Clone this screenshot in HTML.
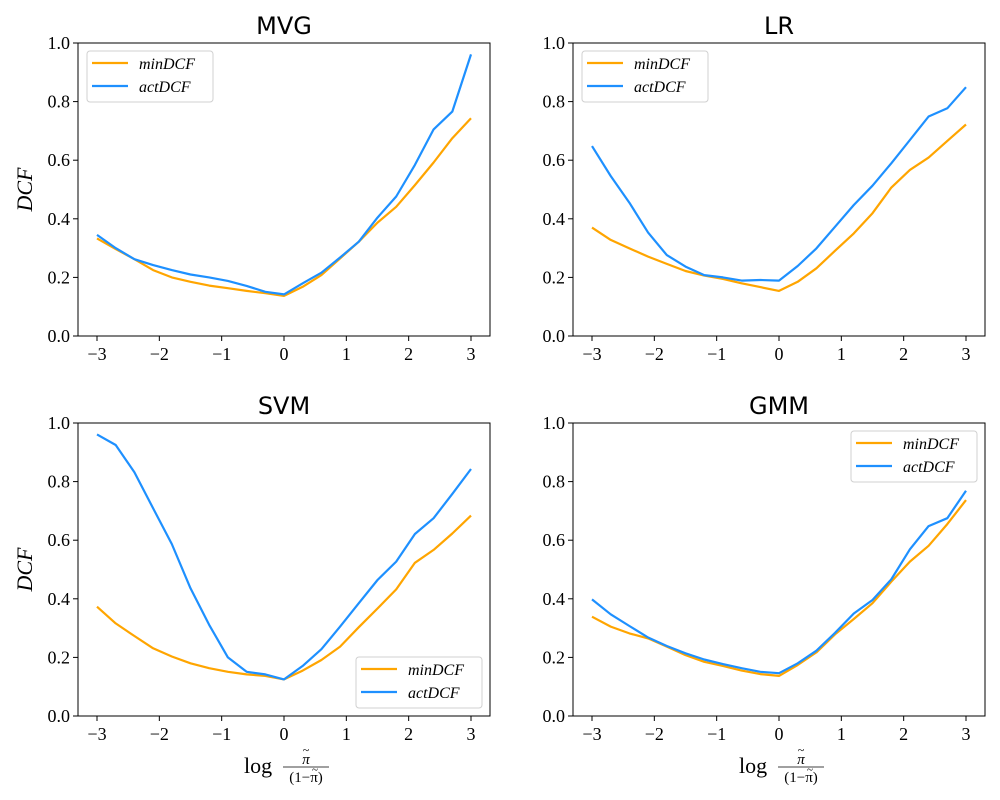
<!DOCTYPE html>
<html><head><meta charset="utf-8">
<style>
html,body{margin:0;padding:0;background:#fff;}
svg{display:block;}
.tick{font-family:"Liberation Serif","DejaVu Serif",serif;font-size:18px;fill:#000;}
.title{font-family:"DejaVu Sans","Liberation Sans",sans-serif;font-size:24px;fill:#000;}
.leg{font-family:"Liberation Serif","DejaVu Serif",serif;font-style:italic;font-size:16px;fill:#000;}
</style></head>
<body>
<svg id="fig" width="1000" height="800" viewBox="0 0 1000 800" xmlns="http://www.w3.org/2000/svg"></svg>
<script>
const xValues = [-3,-2.7,-2.4,-2.1,-1.8,-1.5,-1.2,-0.9,-0.6,-0.3,0,0.3,0.6,0.9,1.2,1.5,1.8,2.1,2.4,2.7,3];
const xTicks = [-3,-2,-1,0,1,2,3];
const xTickLabels = ["\u22123","\u22122","\u22121","0","1","2","3"];
const yTicks = [0,0.2,0.4,0.6,0.8,1.0];
const yTickLabels = ["0.0","0.2","0.4","0.6","0.8","1.0"];
const mvgMin = [.333,.297,.262,.225,.200,.185,.172,.163,.154,.146,.137,.168,.208,.265,.322,.387,.441,.515,.592,.675,.743];
const mvgAct = [.345,.300,.262,.242,.225,.210,.200,.188,.171,.151,.142,.180,.216,.268,.322,.404,.476,.584,.705,.766,.961];
const lrMin = [.370,.328,.299,.271,.246,.222,.206,.195,.180,.167,.154,.185,.231,.291,.350,.419,.506,.567,.609,.666,.722];
const lrAct = [.648,.546,.455,.353,.276,.237,.208,.200,.189,.191,.189,.239,.299,.373,.447,.513,.589,.669,.749,.777,.849];
const svmMin = [.373,.316,.273,.231,.203,.180,.163,.151,.142,.137,.125,.155,.191,.237,.303,.367,.432,.523,.567,.623,.684];
const svmAct = [.961,.925,.832,.709,.587,.436,.311,.200,.151,.142,.125,.171,.228,.305,.385,.464,.527,.621,.675,.758,.843];
const gmmMin = [.339,.305,.282,.265,.237,.208,.185,.171,.155,.143,.137,.174,.217,.279,.331,.385,.458,.527,.581,.655,.737];
const gmmAct = [.398,.347,.307,.268,.239,.214,.193,.177,.163,.151,.146,.180,.223,.284,.350,.396,.466,.569,.648,.675,.769];
const panelTitles = ["MVG","LR","SVM","GMM"];

const NS = "http://www.w3.org/2000/svg";
const svg = document.getElementById("fig");
function mk(tag, attrs, parent){
  const e = document.createElementNS(NS, tag);
  for (const k in attrs) e.setAttribute(k, attrs[k]);
  (parent||svg).appendChild(e);
  return e;
}
const ORANGE = "#ffa500", BLUE = "#1e90ff";

function panel(idx, left, top, minData, actData, legPos, showYLabel, showXLabel){
  const W = 412, H = 293;
  const g = mk("g", {});
  
  
  const xs = v => left + 19 + (v + 3) * (374 / 6);
  const ys = v => top + H - v * H;
  const t = mk("text", {x: left + W/2, y: top - 9, "text-anchor": "middle", class: "title"}, g);
  t.textContent = panelTitles[idx];
  
  
  xTicks.forEach((v, i) => {
    mk("line", {x1: xs(v), x2: xs(v), y1: top + H, y2: top + H + 5, stroke: "#000", "stroke-width": 1}, g);
    const l = mk("text", {x: xs(v), y: top + H + 24, "text-anchor": "middle", class: "tick"}, g);
    l.textContent = xTickLabels[i];
    
    
  });
  yTicks.forEach((v, i) => {
    mk("line", {x1: left - 5, x2: left, y1: ys(v), y2: ys(v), stroke: "#000", "stroke-width": 1}, g);
    const l = mk("text", {x: left - 8, y: ys(v) + 6, "text-anchor": "end", class: "tick"}, g);
    l.textContent = yTickLabels[i];
    
    
  });
  const pts = d => d.map((v, i) => xs(xValues[i]).toFixed(1) + "," + ys(v).toFixed(1)).join(" ");
  const pm = mk("polyline", {points: pts(minData), fill: "none", stroke: ORANGE, "stroke-width": 2.2, "stroke-linejoin": "round"}, g);
  
  
  const pa = mk("polyline", {points: pts(actData), fill: "none", stroke: BLUE, "stroke-width": 2.2, "stroke-linejoin": "round"}, g);
  
  
  mk("rect", {x: left, y: top, width: W, height: H, fill: "none", stroke: "#000", "stroke-width": 1}, g);
  const lx = legPos[0], ly = legPos[1];
  const lg = mk("g", {}, g);
  
  
  mk("rect", {x: lx, y: ly, width: 126, height: 51, rx: 3, fill: "#fff", "fill-opacity": 0.8, stroke: "#d0d0d0"}, lg);
  mk("line", {x1: lx + 5, x2: lx + 41, y1: ly + 12, y2: ly + 12, stroke: ORANGE, "stroke-width": 2.2}, lg);
  mk("line", {x1: lx + 5, x2: lx + 41, y1: ly + 35, y2: ly + 35, stroke: BLUE, "stroke-width": 2.2}, lg);
  const e1 = mk("text", {x: lx + 52, y: ly + 18, class: "leg"}, lg); e1.textContent = "minDCF";
  
  
  const e2 = mk("text", {x: lx + 52, y: ly + 41, class: "leg"}, lg); e2.textContent = "actDCF";
  
  
  if (showYLabel){
    const yl = mk("text", {x: 0, y: 0, transform: "translate(32," + (top + H/2) + ") rotate(-90)", "text-anchor": "middle", class: "leg", style: "font-size:22px"}, g);
    yl.textContent = "DCF";
    
    
  }
  if (showXLabel){
    const cx = left + W/2 - 40;
    const xl = mk("g", {}, g);
    
    
    const lg1 = mk("text", {x: cx, y: top + H + 57, class: "tick", style: "font-size:22px"}, xl); lg1.textContent = "log";
    const fx = cx + 62;
    const n = mk("text", {x: fx, y: top + H + 48, "text-anchor": "middle", class: "tick", style: "font-size:15px;font-style:italic"}, xl); n.textContent = "\u03C0";
    const tl = mk("text", {x: fx, y: top + H + 38, "text-anchor": "middle", class: "tick", style: "font-size:12px"}, xl); tl.textContent = "~";
    mk("line", {x1: fx - 23, x2: fx + 23, y1: top + H + 51, y2: top + H + 51, stroke: "#000", "stroke-width": 0.8}, xl);
    const d = mk("text", {x: fx, y: top + H + 66, "text-anchor": "middle", class: "tick", style: "font-size:15px"}, xl);
    d.textContent = "(1\u2212\u03C0)";
    const tl2 = mk("text", {x: fx + 9, y: top + H + 57, "text-anchor": "middle", class: "tick", style: "font-size:11px"}, xl); tl2.textContent = "~";
  }
}
panel(0, 78, 43, mvgMin, mvgAct, [87, 51], true, false);
panel(1, 573, 43, lrMin, lrAct, [582, 51], false, false);
panel(2, 78, 423, svmMin, svmAct, [356, 657], true, true);
panel(3, 573, 423, gmmMin, gmmAct, [851, 431], false, true);
</script>
</body></html>
